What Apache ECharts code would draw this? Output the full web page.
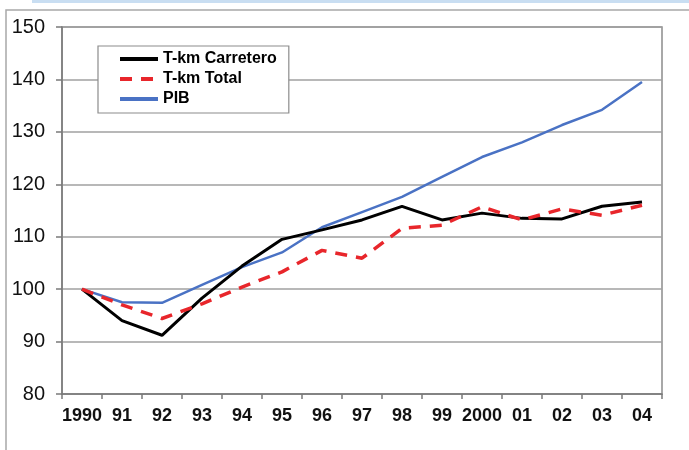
<!DOCTYPE html>
<html>
<head>
<meta charset="utf-8">
<script src="https://cdn.jsdelivr.net/npm/echarts@6/dist/echarts.min.js"></script>
<style>
html,body{margin:0;padding:0;background:#fff;}
#chart{width:689px;height:450px;}
</style>
</head>
<body>
<div id="chart"></div>
<script>
const categories = ['1990','91','92','93','94','95','96','97','98','99','2000','01','02','03','04'];
const carretero = [100, 94, 91.2, 98.3, 104.4, 109.5, 111.3, 113.2, 115.8, 113.2, 114.5, 113.5, 113.4, 115.8, 116.6];
const total = [100, 97, 94.4, 97.2, 100.4, 103.3, 107.4, 105.9, 111.6, 112.2, 115.7, 113.2, 115.3, 114.1, 116];
const pib = [100, 97.5, 97.4, 100.8, 104.2, 107, 111.8, 114.7, 117.6, 121.4, 125.2, 128, 131.3, 134.2, 139.5];
const seriesNames = ['T-km Carretero', 'T-km Total', 'PIB'];

const chart = echarts.init(document.getElementById('chart'), null, {renderer: 'canvas'});
const font = 'Liberation Sans, Arial, sans-serif';
chart.setOption({
  animation: false,
  backgroundColor: '#fff',
  graphic: [
    {type: 'rect', shape: {x: 32, y: 0, width: 660, height: 3}, style: {fill: '#c9def2'}, z: 0},
    {type: 'rect', shape: {x: 6, y: 10, width: 700, height: 460}, style: {fill: 'none', stroke: '#a8a8a8', lineWidth: 1.5}, z: 0}
  ],
  grid: {left: 62, right: 27, top: 27, bottom: 56, show: true, borderColor: '#8c8c8c', borderWidth: 1.5, backgroundColor: 'transparent'},
  legend: {
    show: true,
    left: 98, top: 46, orient: 'vertical', itemGap: 4,
    padding: [5, 12, 6, 20],
    backgroundColor: '#ffffff', borderColor: '#8c8c8c', borderWidth: 1.2,
    itemWidth: 38, itemHeight: 16,
    itemStyle: {opacity: 0},
    lineStyle: {width: 4},
    textStyle: {fontFamily: font, fontWeight: 'bold', fontSize: 16, color: '#000'},
    data: seriesNames
  },
  xAxis: {
    type: 'category', data: categories, boundaryGap: true,
    axisLine: {lineStyle: {color: '#7a7a7a', width: 1.5}},
    axisTick: {show: true, inside: false, length: 5, lineStyle: {color: '#7a7a7a', width: 1.5}},
    axisLabel: {fontFamily: font, fontWeight: 'bold', fontSize: 18, color: '#111', margin: 13, interval: 0}
  },
  yAxis: {
    type: 'value', min: 80, max: 150, interval: 10,
    axisLine: {show: true, lineStyle: {color: '#7a7a7a', width: 1.5}},
    axisTick: {show: true, inside: false, length: 6, lineStyle: {color: '#7a7a7a', width: 1.5}},
    axisLabel: {fontFamily: font, fontSize: 20, color: '#111', margin: 17},
    splitLine: {lineStyle: {color: '#a0a0a0', width: 1.5}}
  },
  series: [
    {name: seriesNames[0], type: 'line', data: carretero, symbol: 'none', z: 3,
     lineStyle: {color: '#000', width: 3}, itemStyle: {color: '#000'}},
    {name: seriesNames[1], type: 'line', data: total, symbol: 'none', z: 4,
     lineStyle: {color: '#e8262b', width: 3.5, type: [12, 9]}, itemStyle: {color: '#e8262b'}},
    {name: seriesNames[2], type: 'line', data: pib, symbol: 'none', z: 2,
     lineStyle: {color: '#4a72c4', width: 2.5}, itemStyle: {color: '#4a72c4'}}
  ]
});
</script>
</body>
</html>
